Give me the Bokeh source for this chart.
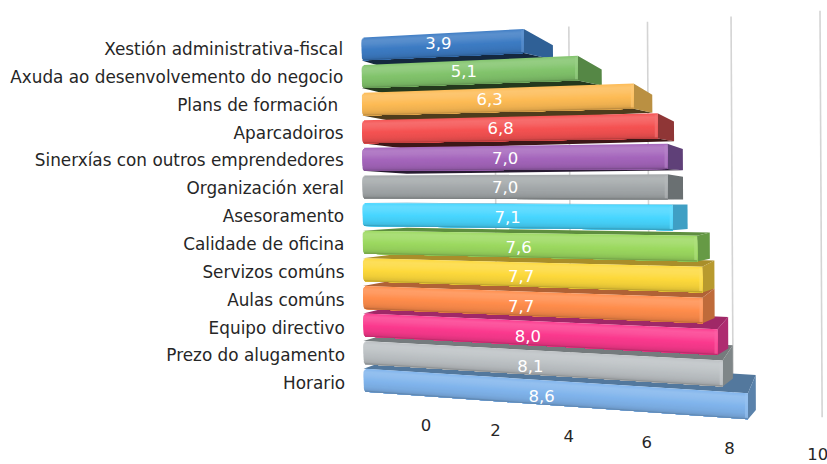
from bokeh.plotting import figure
from bokeh.models import ColumnDataSource
from bokeh.core.properties import value
from bokeh.embed import file_html
from bokeh.resources import INLINE

categories = ["Xestión administrativa-fiscal", "Axuda ao desenvolvemento do negocio", "Plans de formación ",
              "Aparcadoiros", "Sinerxías con outros emprendedores", "Organización xeral", "Asesoramento",
              "Calidade de oficina", "Servizos comúns", "Aulas comúns", "Equipo directivo",
              "Prezo do alugamento", "Horario"]
values = [3.9, 5.1, 6.3, 6.8, 7.0, 7.0, 7.1, 7.6, 7.7, 7.7, 8.0, 8.1, 8.6]
face_colors = ["#3d7cc4", "#82c46c", "#fdbb55", "#f55252", "#a566bc", "#a3a8aa", "#48d6ff",
               "#9cd960", "#fdd93c", "#ff8d4c", "#fb3a8e", "#bcc1c4", "#80b4ec"]
side_colors = ["#2f6096", "#558745", "#ba9042", "#8f3636", "#5f4078", "#6a7072", "#3f9fc4",
               "#669a45", "#b89a2e", "#bf6b3a", "#ae2c70", "#7f8688", "#5a82ab"]
axis_ticks = [0, 2, 4, 6, 8, 10]

FONT = "DejaVu Sans"
TEXT = "#262626"
W, H = 827, 464
# perspective of the 3-D chart
C, A, VPX, VPY = 0.0139, 39.35, 830, 200
K_BAR, K_WALL = 0.095, 0.135
BAR = 0.83


def proj(v, r, k=0.0, ky=None):
    w = 1 - C * v
    x = 361 + 0.17 * r + A * v / w
    y = (37 + 27.6 * r - 2.6 * v) / w
    ky = k if ky is None else ky
    return x + k * (VPX - x), y + ky * (VPY - y)


def shade(col, f):
    rgb = [int(col[i:i + 2], 16) for i in (1, 3, 5)]
    if f >= 1:
        rgb = [c + (255 - c) * (f - 1) for c in rgb]
    else:
        rgb = [c * f for c in rgb]
    return "#%02x%02x%02x" % tuple(int(round(c)) for c in rgb)


p = figure(width=W, height=H, x_range=(0, W), y_range=(H, 0), toolbar_location=None,
           output_backend="svg", min_border=0, outline_line_color=None, background_fill_color="white")
p.axis.visible = False
p.grid.visible = False

# back wall grid lines
for t in axis_ticks[1:]:
    x0, y0 = proj(t, -1.0, K_WALL)
    x1, y1 = proj(t, 13.66, K_WALL)
    p.line([x0, x1], [y0, y1], line_color="#d4d4d4", line_width=1.6)

KEYS = [(0.00, 1.04), (0.12, 1.16), (0.28, 1.12), (0.50, 1.0), (0.75, 0.95), (0.90, 0.88), (1.00, 0.66)]
STEPS = 22


def shade_at(t):
    for (t0, f0), (t1, f1) in zip(KEYS, KEYS[1:]):
        if t <= t1:
            return f0 + (f1 - f0) * (t - t0) / (t1 - t0)
    return KEYS[-1][1]


def draw_bar(i):
    v, r = values[i], float(i)
    face, side = face_colors[i], side_colors[i]
    rb = r + BAR
    # top or underside surface
    if i >= 6:
        pts = [proj(0, r), proj(v, r), proj(v, r, K_BAR), proj(0, r, K_BAR)]
        col = shade(side, 0.92)
    else:
        pts = [proj(0, rb), proj(v, rb), proj(v, rb, K_BAR, K_BAR * 0.45), proj(0, rb, K_BAR)]
        col = shade(side, 0.42)
    p.patch([q[0] for q in pts], [q[1] for q in pts], fill_color=col, line_color=None)
    # end of the bar
    pts = [proj(v, r), proj(v, r, K_BAR), proj(v, r + 0.14, K_BAR), proj(v, rb - 0.1, K_BAR, K_BAR * 0.5),
           proj(v, rb, K_BAR, K_BAR * 0.45), proj(v, rb)]
    p.patch([q[0] for q in pts], [q[1] for q in pts], fill_color=side, line_color=None)
    # front with a stepped gradient; each strip runs down to the lower edge, so no seams show
    for n in range(STEPS):
        t = n / STEPS
        # the left end of the bar is slightly rounded
        off = 0.05 * max(0.0, 1 - t / 0.12) ** 2
        low_off = 0.05 * max(0.0, 1 - (1 - t) / 0.12) ** 2
        pts = [proj(max(off, low_off), r + BAR * t), proj(v, r + BAR * t), proj(v, rb), proj(0.05, rb)]
        p.patch([q[0] for q in pts], [q[1] for q in pts], fill_color=shade(face, shade_at(t)), line_color=None)
    # highlight along the front right edge
    pts = [proj(v - 0.06, r + 0.04), proj(v, r + 0.04), proj(v, rb - 0.04), proj(v - 0.06, rb - 0.04)]
    p.patch([q[0] for q in pts], [q[1] for q in pts], fill_color=shade(face, 1.2), fill_alpha=0.6, line_color=None)


for i in list(range(0, 6)) + list(range(12, 5, -1)):
    draw_bar(i)

# category labels
lab = [proj(0, i + 0.42) for i in range(len(categories))]
src = ColumnDataSource(dict(x=[q[0] - 18.5 for q in lab], y=[q[1] + 0.25 * i for i, q in enumerate(lab)], t=categories))
p.text("x", "y", text="t", source=src, text_align="right", text_baseline="middle",
       text_font=value(FONT), text_font_size="16.85px", text_color=TEXT)

# value labels
pos = [proj(v / 2, i + 0.48) for i, v in enumerate(values)]
src = ColumnDataSource(dict(x=[q[0] - 2 for q in pos], y=[q[1] - 4 + 0.5 * i for i, q in enumerate(pos)],
                            t=[f"{v:.1f}".replace(".", ",") for v in values]))
p.text("x", "y", text="t", source=src, text_align="center", text_baseline="middle",
       text_font=value(FONT), text_font_size="16.5px", text_color="white")

# value axis labels
pos = [proj(t, 15.3 - 0.03 * t, K_WALL) for t in axis_ticks]
src = ColumnDataSource(dict(x=[q[0] - 1 - 0.35 * t for q, t in zip(pos, axis_ticks)], y=[q[1] for q in pos],
                            t=[str(t) for t in axis_ticks]))
p.text("x", "y", text="t", source=src, text_align="center", text_baseline="middle",
       text_font=value(FONT), text_font_size="16.5px", text_color=TEXT)

open("out.html", "w").write(file_html(p, INLINE))
